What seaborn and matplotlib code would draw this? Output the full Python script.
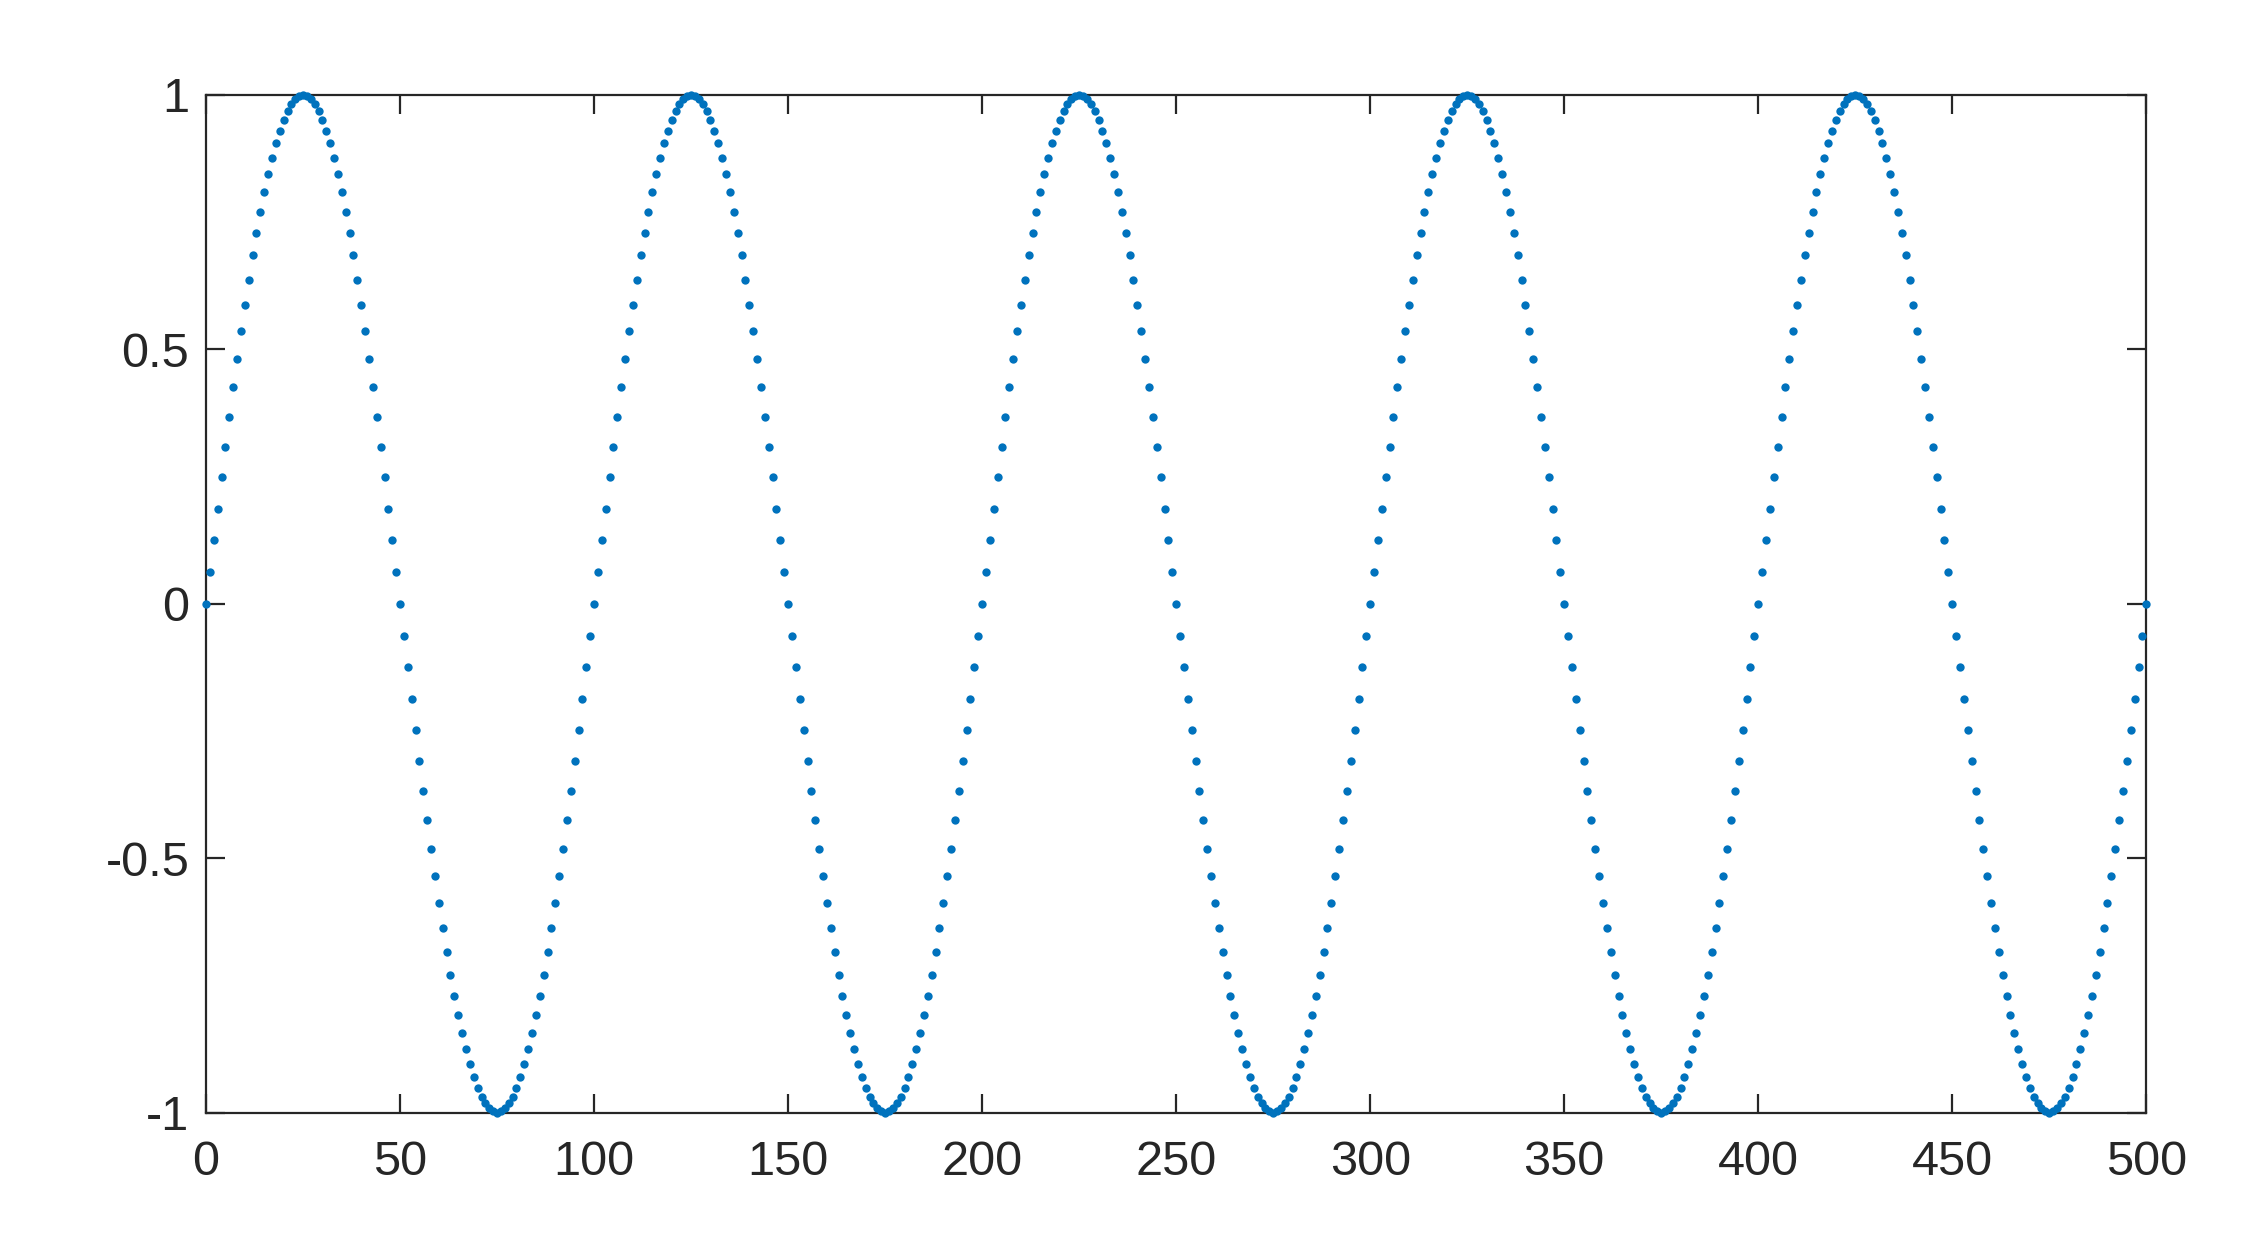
import numpy as np
import matplotlib
matplotlib.use('Agg')
import matplotlib.pyplot as plt
import seaborn as sns

# sample positions, one every unit
x_values = np.arange(0, 501)

# y values, half a period per line
y_values = [
    0, .063, .125, .187, .249, .309, .368, .426, .482, .536, .588, .637, .685, .729, .771, .809, .844, .876, .905, .930, .951, .969, .982, .992, .998, 1, .998, .992, .982, .969, .951, .930, .905, .876, .844, .809, .771, .729, .685, .637, .588, .536, .482, .426, .368, .309, .249, .187, .125, .063,
    0, -.063, -.125, -.187, -.249, -.309, -.368, -.426, -.482, -.536, -.588, -.637, -.685, -.729, -.771, -.809, -.844, -.876, -.905, -.930, -.951, -.969, -.982, -.992, -.998, -1, -.998, -.992, -.982, -.969, -.951, -.930, -.905, -.876, -.844, -.809, -.771, -.729, -.685, -.637, -.588, -.536, -.482, -.426, -.368, -.309, -.249, -.187, -.125, -.063,
    0, .063, .125, .187, .249, .309, .368, .426, .482, .536, .588, .637, .685, .729, .771, .809, .844, .876, .905, .930, .951, .969, .982, .992, .998, 1, .998, .992, .982, .969, .951, .930, .905, .876, .844, .809, .771, .729, .685, .637, .588, .536, .482, .426, .368, .309, .249, .187, .125, .063,
    0, -.063, -.125, -.187, -.249, -.309, -.368, -.426, -.482, -.536, -.588, -.637, -.685, -.729, -.771, -.809, -.844, -.876, -.905, -.930, -.951, -.969, -.982, -.992, -.998, -1, -.998, -.992, -.982, -.969, -.951, -.930, -.905, -.876, -.844, -.809, -.771, -.729, -.685, -.637, -.588, -.536, -.482, -.426, -.368, -.309, -.249, -.187, -.125, -.063,
    0, .063, .125, .187, .249, .309, .368, .426, .482, .536, .588, .637, .685, .729, .771, .809, .844, .876, .905, .930, .951, .969, .982, .992, .998, 1, .998, .992, .982, .969, .951, .930, .905, .876, .844, .809, .771, .729, .685, .637, .588, .536, .482, .426, .368, .309, .249, .187, .125, .063,
    0, -.063, -.125, -.187, -.249, -.309, -.368, -.426, -.482, -.536, -.588, -.637, -.685, -.729, -.771, -.809, -.844, -.876, -.905, -.930, -.951, -.969, -.982, -.992, -.998, -1, -.998, -.992, -.982, -.969, -.951, -.930, -.905, -.876, -.844, -.809, -.771, -.729, -.685, -.637, -.588, -.536, -.482, -.426, -.368, -.309, -.249, -.187, -.125, -.063,
    0, .063, .125, .187, .249, .309, .368, .426, .482, .536, .588, .637, .685, .729, .771, .809, .844, .876, .905, .930, .951, .969, .982, .992, .998, 1, .998, .992, .982, .969, .951, .930, .905, .876, .844, .809, .771, .729, .685, .637, .588, .536, .482, .426, .368, .309, .249, .187, .125, .063,
    0, -.063, -.125, -.187, -.249, -.309, -.368, -.426, -.482, -.536, -.588, -.637, -.685, -.729, -.771, -.809, -.844, -.876, -.905, -.930, -.951, -.969, -.982, -.992, -.998, -1, -.998, -.992, -.982, -.969, -.951, -.930, -.905, -.876, -.844, -.809, -.771, -.729, -.685, -.637, -.588, -.536, -.482, -.426, -.368, -.309, -.249, -.187, -.125, -.063,
    0, .063, .125, .187, .249, .309, .368, .426, .482, .536, .588, .637, .685, .729, .771, .809, .844, .876, .905, .930, .951, .969, .982, .992, .998, 1, .998, .992, .982, .969, .951, .930, .905, .876, .844, .809, .771, .729, .685, .637, .588, .536, .482, .426, .368, .309, .249, .187, .125, .063,
    0, -.063, -.125, -.187, -.249, -.309, -.368, -.426, -.482, -.536, -.588, -.637, -.685, -.729, -.771, -.809, -.844, -.876, -.905, -.930, -.951, -.969, -.982, -.992, -.998, -1, -.998, -.992, -.982, -.969, -.951, -.930, -.905, -.876, -.844, -.809, -.771, -.729, -.685, -.637, -.588, -.536, -.482, -.426, -.368, -.309, -.249, -.187, -.125, -.063,
    0,
]

x_ticks = [0, 50, 100, 150, 200, 250, 300, 350, 400, 450, 500]
y_ticks = [-1, -0.5, 0, 0.5, 1]
y_ticklabels = ['-1', '-0.5', '0', '0.5', '1']

sns.set_style('white')
plt.rcParams['font.family'] = ['Liberation Sans', 'DejaVu Sans']

fig = plt.figure(figsize=(11.32, 6.25), dpi=200)
ax = fig.add_axes([0.091, 0.110, 0.857, 0.814])

sns.scatterplot(x=x_values, y=y_values, ax=ax, s=9, color='#0072BD',
                linewidth=0, clip_on=False, zorder=3)

ax.set_xlim(0, 500)
ax.set_ylim(-1, 1)
ax.set_xticks(x_ticks)
ax.set_xticklabels([str(t) for t in x_ticks])
ax.set_yticks(y_ticks)
ax.set_yticklabels(y_ticklabels)

for side in ['left', 'right', 'top', 'bottom']:
    ax.spines[side].set_visible(True)
    ax.spines[side].set_color('#262626')
    ax.spines[side].set_linewidth(0.8)

ax.tick_params(direction='in', length=6.8, width=0.8, color='#262626',
               labelcolor='#262626', labelsize=17.5,
               top=True, right=True, bottom=True, left=True)
ax.tick_params(axis='x', pad=10)
ax.tick_params(axis='y', pad=6)

fig.savefig('out.png', dpi=200)
